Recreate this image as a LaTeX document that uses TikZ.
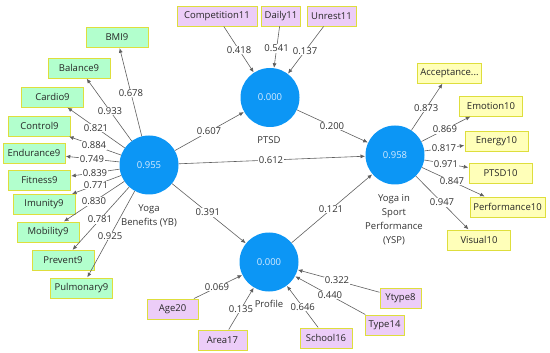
\documentclass[tikz,border=0pt]{standalone}
\usepackage{fontspec}
\setmainfont{Open Sans}
\usetikzlibrary{calc,arrows.meta}
\definecolor{cblue}{RGB}{12,150,245}
\definecolor{ctext}{RGB}{215,235,255}
\definecolor{gfill}{RGB}{178,255,205}
\definecolor{pfill}{RGB}{236,205,248}
\definecolor{yfill}{RGB}{255,255,185}
\definecolor{bord}{RGB}{222,222,60}
\definecolor{lgray}{RGB}{95,95,95}
\definecolor{ltext}{RGB}{50,50,50}
\tikzset{
  construct/.style={circle, fill=cblue, draw=none, minimum size=59pt, inner sep=0pt, text=ctext},
  indbox/.style={rectangle, draw=bord, line width=0.9pt, minimum height=20pt, inner sep=0pt, inner xsep=3pt, text=black!85},
  green/.style={indbox, fill=gfill, minimum width=62pt},
  purple/.style={indbox, fill=pfill},
  yel/.style={indbox, fill=yfill, minimum width=63pt},
  conn/.style={draw=lgray, line width=0.6pt, -{Latex[length=4.5pt,width=4pt]}, shorten >=0.3pt},
  lbl/.style={fill=white, inner sep=0.6pt, text=ltext},
  cname/.style={align=center, text=ltext}
}
\begin{document}
\begin{tikzpicture}[x=1pt,y=-1pt, font=\fontsize{9.5}{14}\selectfont]
\useasboundingbox (0,0) rectangle (550,353);
% constructs
\node[construct] (yb) at (149,165) {0.955};
\node[construct] (ptsd) at (270,97.5) {0.000};
\node[construct] (ysp) at (395,155) {0.958};
\node[construct] (prof) at (269,262) {0.000};
\node[cname] (ybn) at (149,216) {Yoga\\Benefits (YB)};
\node[cname] (ptsdn) at (269,140) {PTSD};
\node[cname] (yspn) at (394,220) {Yoga in\\Sport\\Performance\\(YSP)};
\node[cname] (profn) at (269,304) {Profile};
% YB indicators
\node[green] (bmi) at (117,37.5) {BMI9};
\node[green] (bal) at (79,68) {Balance9};
\node[green] (car) at (52.5,97) {Cardio9};
\node[green] (con) at (39.5,126) {Control9};
\node[green] (end) at (34,153) {Endurance9};
\node[green] (fit) at (39.5,180.5) {Fitness9};
\node[green] (imu) at (44,204.5) {Imunity9};
\node[green] (mob) at (48,232) {Mobility9};
\node[green] (pre) at (63,260.5) {Prevent9};
\node[green] (pul) at (81.5,288) {Pulmonary9};
% PTSD indicators
\node[purple, minimum width=80pt] (comp) at (217,16) {Competition11};
\node[purple, minimum width=38pt] (dai) at (281,16) {Daily11};
\node[purple, minimum width=49pt] (unr) at (331.5,16) {Unrest11};
% Profile indicators
\node[purple, minimum width=51pt] (age) at (172.5,309) {Age20};
\node[purple, minimum width=49pt] (area) at (222.5,340) {Area17};
\node[purple, minimum width=52pt] (sch) at (326,338) {School16};
\node[purple, minimum width=39pt] (typ) at (384.5,325) {Type14};
\node[purple, minimum width=41pt] (ytp) at (400.5,298) {Ytype8};
% YSP indicators
\node[yel] (acc) at (449.5,73) {Acceptance...};
\node[yel] (emo) at (491,106) {Emotion10};
\node[yel] (ene) at (496.5,141) {Energy10};
\node[yel] (pts) at (500.5,173) {PTSD10};
\node[yel, minimum width=75pt] (per) at (507.5,207) {Performance10};
\node[yel] (vis) at (479,240) {Visual10};
% connectors
\foreach \b in {bmi,bal,car,con,end,fit,imu,mob,pre,pul} {\draw[conn] (yb) -- (\b);}
\foreach \b in {acc,emo,ene,pts,per,vis} {\draw[conn] (ysp) -- (\b);}
\foreach \a in {comp,dai,unr} {\draw[conn] (\a) -- (ptsd);}
\foreach \a in {age,area,sch,typ,ytp} {\draw[conn] (\a) -- (prof);}
\draw[conn] (yb) -- (ptsd);
\draw[conn] (yb) -- (ysp);
\draw[conn] (yb) -- (prof);
\draw[conn] (ptsd) -- (ysp);
\draw[conn] (prof) -- (ysp);
% labels
\node[lbl] (l1) at ($(yb)!0.565!(bmi)$) {0.678};
\node[lbl] (l2) at ($(yb)!0.557!(bal)$) {0.933};
\node[lbl] (l3) at ($(yb)!0.549!(car)$) {0.821};
\node[lbl] (l4) at ($(yb)!0.502!(con)$) {0.884};
\node[lbl] (l5) at ($(yb)!0.496!(end)$) {0.749};
\node[lbl] (l6) at ($(yb)!0.493!(fit)$) {0.839};
\node[lbl] (l7) at ($(yb)!0.505!(imu)$) {0.771};
\node[lbl] (l8) at ($(yb)!0.545!(mob)$) {0.830};
\node[lbl] (l9) at ($(yb)!0.57!(pre)$) {0.781};
\node[lbl] (l10) at ($(yb)!0.577!(pul)$) {0.925};
\node[lbl] (l11) at ($(yb)!0.496!(ptsd)$) {0.607};
\node[lbl] (l12) at ($(yb)!0.496!(ysp)$) {0.612};
\node[lbl] (l13) at ($(yb)!0.49!(prof)$) {0.391};
\node[lbl] (l14) at ($(ptsd)!0.496!(ysp)$) {0.200};
\node[lbl] (l15) at ($(prof)!0.492!(ysp)$) {0.121};
\node[lbl] (l16) at ($(ptsd)!0.583!(comp)$) {0.418};
\node[lbl] (l17) at ($(ptsd)!0.6!(dai)$) {0.541};
\node[lbl] (l18) at ($(ptsd)!0.57!(unr)$) {0.137};
\node[lbl] (l19) at ($(ysp)!0.573!(acc)$) {0.873};
\node[lbl] (l20) at ($(ysp)!0.52!(emo)$) {0.869};
\node[lbl] (l21) at ($(ysp)!0.483!(ene)$) {0.817};
\node[lbl] (l22) at ($(ysp)!0.483!(pts)$) {0.971};
\node[lbl] (l23) at ($(ysp)!0.507!(per)$) {0.847};
\node[lbl] (l24) at ($(ysp)!0.56!(vis)$) {0.947};
\node[lbl] (l25) at ($(prof)!0.539!(age)$) {0.069};
\node[lbl] (l26) at ($(prof)!0.603!(area)$) {0.135};
\node[lbl] (l27) at ($(prof)!0.592!(sch)$) {0.646};
\node[lbl] (l28) at ($(prof)!0.528!(typ)$) {0.440};
\node[lbl] (l29) at ($(prof)!0.517!(ytp)$) {0.322};
\end{tikzpicture}
\end{document}
